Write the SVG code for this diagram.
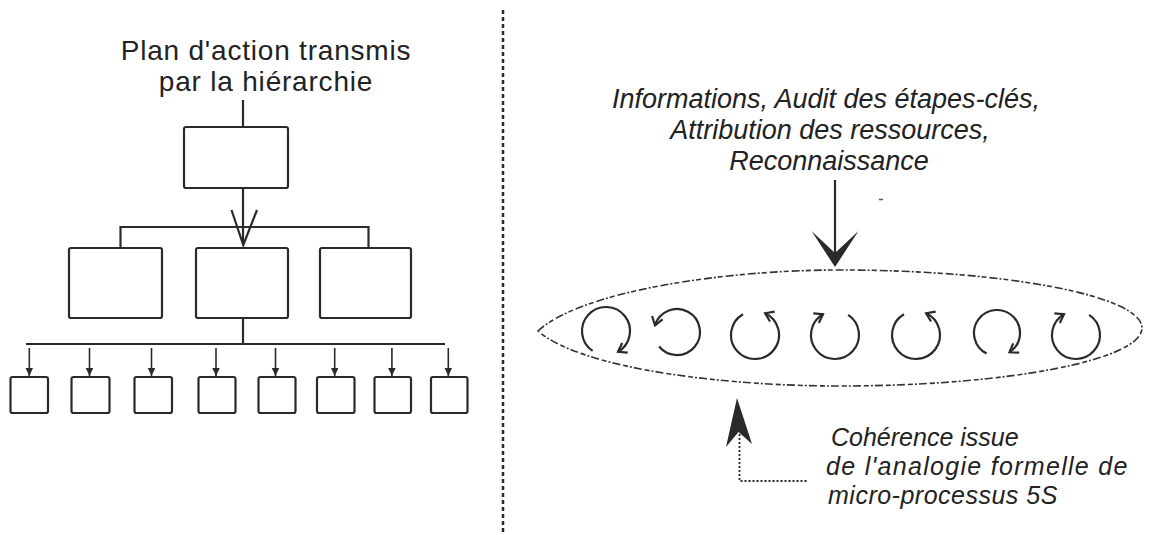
<svg xmlns="http://www.w3.org/2000/svg" width="1157" height="535" viewBox="0 0 1157 535">
<style>
.bg{fill:#ffffff}
.box{fill:none;stroke:#2a2a2a;stroke-width:2.2}
.ln{fill:none;stroke:#2a2a2a;stroke-width:2.2}
.ln2{fill:none;stroke:#2a2a2a;stroke-width:1.6}
.t{font-family:"Liberation Sans",Arial,sans-serif;fill:#222222}
.title{font-size:28px;letter-spacing:0.8px}
.it{font-style:italic;font-size:27px}
.it2{font-style:italic;font-size:25px}
.sep{fill:none;stroke:#2a2a2a;stroke-width:2.5;stroke-dasharray:4 3}
.ell{fill:none;stroke:#333333;stroke-width:1.6;stroke-dasharray:8 2 2 2 5 3}
.cyc{fill:none;stroke:#2a2a2a;stroke-width:2.2;marker-end:url(#chev)}
.dot{fill:none;stroke:#2a2a2a;stroke-width:1.8;stroke-dasharray:2 2}
.head{fill:#2a2a2a;stroke:none}
</style>
<defs>
<marker id="chev" markerUnits="userSpaceOnUse" markerWidth="14" markerHeight="14" refX="9" refY="6" orient="auto" viewBox="0 0 14 12">
<path d="M1,0.5 L9,6 L1,11.5" fill="none" stroke="#2a2a2a" stroke-width="2.2"/>
</marker>
<marker id="tri" markerUnits="userSpaceOnUse" markerWidth="9" markerHeight="8" refX="8" refY="3.75" orient="auto" viewBox="0 0 9 8">
<path d="M0,0 L8,3.75 L0,7.5 Z" fill="#2a2a2a"/>
</marker>
</defs>
<rect class="bg" x="0" y="0" width="1157" height="535"/>

<g id="left-title">
<text class="t title" x="266" y="60" text-anchor="middle">Plan d'action transmis</text>
<text class="t title" x="266" y="91" text-anchor="middle">par la hiérarchie</text>
</g>
<g id="box-top"><rect class="box" x="184" y="127" width="104" height="61" rx="2"/></g>
<g id="box-mid-1"><rect class="box" x="69" y="248" width="93" height="70" rx="2"/></g>
<g id="box-mid-2"><rect class="box" x="196" y="248" width="92" height="70" rx="2"/></g>
<g id="box-mid-3"><rect class="box" x="320" y="248" width="91" height="70" rx="2"/></g>
<g id="small-boxes">
<rect id="sb1" class="box" x="10.5" y="377" width="37.5" height="36" rx="2"/>
<rect id="sb2" class="box" x="71.5" y="377" width="38" height="36" rx="2"/>
<rect id="sb3" class="box" x="134.5" y="377" width="37.5" height="36" rx="2"/>
<rect id="sb4" class="box" x="198.5" y="377" width="37" height="36" rx="2"/>
<rect id="sb5" class="box" x="258.5" y="377" width="37" height="36" rx="2"/>
<rect id="sb6" class="box" x="317" y="377" width="37.5" height="36" rx="2"/>
<rect id="sb7" class="box" x="374.5" y="377" width="36.5" height="36" rx="2"/>
<rect id="sb8" class="box" x="431" y="377" width="36.5" height="36" rx="2"/>
</g>

<g id="separator"><line class="sep" x1="503" y1="10" x2="503" y2="533"/></g>

<g id="right-input-text">
<text class="t it" x="826" y="108" text-anchor="middle">Informations, Audit des étapes-clés,</text>
<text class="t it" x="830" y="139" text-anchor="middle">Attribution des ressources,</text>
<text class="t it" x="829" y="170" text-anchor="middle">Reconnaissance</text>
</g>

<g id="process-ellipse">
<path class="ell" d="M538,331 C580,292 720,270 840,270 C1007,270 1142,296 1142,328 C1142,360 1007,386 840,386 C720,386 580,368 538,331 Z"/>
<path id="c1" class="cyc" d="M592.6,350.9 A24,24 0 1 1 618,351.8"/>
<path id="c2" class="cyc" d="M659.1,346.5 A23,23 0 1 0 655,325.3"/>
<path id="c3" class="cyc" d="M743,314.2 A24,24 0 1 0 765.1,313.2"/>
<path id="c4" class="cyc" d="M848.1,314.9 A24,24 0 1 1 823,314.2"/>
<path id="c5" class="cyc" d="M904,314.2 A24,24 0 1 0 926.1,313.2"/>
<path id="c6" class="cyc" d="M986.6,353.5 A23,23 0 1 1 1009.5,352.3"/>
<path id="c7" class="cyc" d="M1089.1,314.9 A24,24 0 1 1 1064,314.2"/>
</g>

<g id="bottom-text">
<text class="t it2" x="831" y="446">Cohérence issue</text>
<text class="t it2" x="826" y="475" letter-spacing="1.3">de l'analogie formelle de</text>
<text class="t it2" x="828" y="504" letter-spacing="0.5">micro-processus 5S</text>
</g>

<g id="connectors">
<line class="ln" x1="243" y1="100" x2="243" y2="127"/>
<line class="ln" x1="243" y1="188" x2="243" y2="244"/>
<polyline class="ln" points="231.5,210 243.3,245 257,210"/>
<polyline class="ln" points="120.5,248 120.5,227 368.5,227 368.5,248"/>
<line class="ln" x1="243" y1="318" x2="243" y2="344"/>
<line class="ln" x1="26" y1="344" x2="445" y2="344"/>
<g class="small-arrows">
<line class="ln2" x1="29.3" y1="348" x2="29.3" y2="376" marker-end="url(#tri)"/>
<line class="ln2" x1="89.5" y1="348" x2="89.5" y2="376" marker-end="url(#tri)"/>
<line class="ln2" x1="151.5" y1="348" x2="151.5" y2="376" marker-end="url(#tri)"/>
<line class="ln2" x1="216" y1="348" x2="216" y2="376" marker-end="url(#tri)"/>
<line class="ln2" x1="275.5" y1="348" x2="275.5" y2="376" marker-end="url(#tri)"/>
<line class="ln2" x1="334.7" y1="348" x2="334.7" y2="376" marker-end="url(#tri)"/>
<line class="ln2" x1="391.9" y1="348" x2="391.9" y2="376" marker-end="url(#tri)"/>
<line class="ln2" x1="448.3" y1="348" x2="448.3" y2="376" marker-end="url(#tri)"/>
</g>
<line class="ln" x1="835" y1="180" x2="835" y2="256"/>
<path class="head" d="M811.5,231 L835,267 L858.5,231 L835,253 Z"/>
<path d="M879,199.5 L883,199.5" stroke="#555555" stroke-width="1.5"/>
<path class="head" d="M737,398 L752,444 L738.5,432 L726,447 Z"/>
<polyline class="dot" points="739.5,434 739.5,481 808,481"/>
</g>
</svg>
